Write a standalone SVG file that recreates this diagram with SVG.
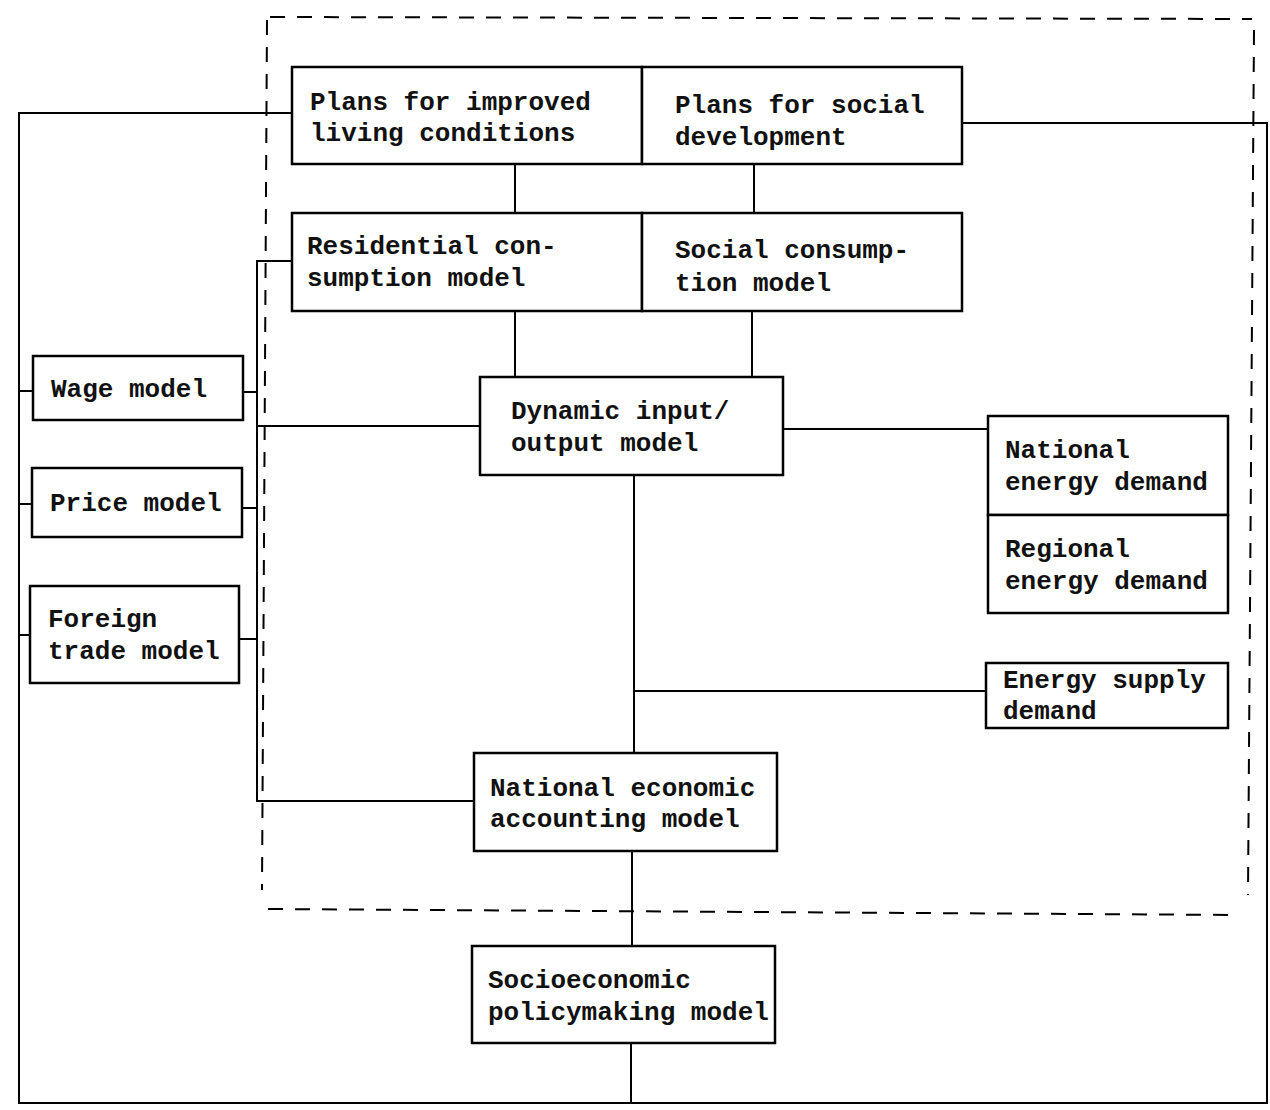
<svg xmlns="http://www.w3.org/2000/svg" width="1270" height="1110" viewBox="0 0 1270 1110">
<style>
.box{fill:#fff;stroke:#000;stroke-width:2.5}
.ln{fill:none;stroke:#000;stroke-width:2}
.dash{fill:none;stroke:#000;stroke-width:2;stroke-dasharray:15 12}
text{font-family:"Liberation Mono","Courier New",monospace;font-size:26px;font-weight:bold;fill:#111}
</style>
<rect width="1270" height="1110" fill="#fff"/>
<g id="boundary">
<line class="dash" x1="270" y1="17" x2="1252" y2="19"/>
<line class="dash" x1="267" y1="20" x2="262" y2="890"/>
<line class="dash" x1="1254" y1="30" x2="1248" y2="895"/>
<line class="dash" x1="268" y1="909" x2="1240" y2="915"/>
</g>
<g id="connectors">
<polyline class="ln" points="292,113 19,113 19,1103 1267,1103 1267,123 962,123"/>
<line class="ln" x1="631" y1="1043" x2="631" y2="1103"/>
<line class="ln" x1="19" y1="391" x2="33" y2="391"/>
<line class="ln" x1="19" y1="504" x2="32" y2="504"/>
<line class="ln" x1="19" y1="635" x2="30" y2="635"/>
<polyline class="ln" points="292,261 257,261 257,801 474,801"/>
<line class="ln" x1="243" y1="392" x2="257" y2="392"/>
<line class="ln" x1="242" y1="508" x2="257" y2="508"/>
<line class="ln" x1="239" y1="639" x2="257" y2="639"/>
<line class="ln" x1="257" y1="426" x2="480" y2="426"/>
<line class="ln" x1="515" y1="164" x2="515" y2="213"/>
<line class="ln" x1="754" y1="164" x2="754" y2="213"/>
<line class="ln" x1="515" y1="311" x2="515" y2="377"/>
<line class="ln" x1="752" y1="311" x2="752" y2="377"/>
<line class="ln" x1="783" y1="429" x2="988" y2="429"/>
<line class="ln" x1="634" y1="475" x2="634" y2="753"/>
<line class="ln" x1="634" y1="691" x2="986" y2="691"/>
<line class="ln" x1="632" y1="851" x2="632" y2="946"/>
</g>
<g id="plans_living"><rect class="box" x="292" y="67" width="350" height="97"/><text x="310" y="110">Plans for improved</text><text x="310" y="141">living conditions</text></g>
<g id="plans_social"><rect class="box" x="642" y="67" width="320" height="97"/><text x="675" y="113">Plans for social</text><text x="675" y="145">development</text></g>
<g id="residential"><rect class="box" x="292" y="213" width="350" height="98"/><text x="307" y="254">Residential con-</text><text x="307" y="286">sumption model</text></g>
<g id="social_consumption"><rect class="box" x="642" y="213" width="320" height="98"/><text x="675" y="258">Social consump-</text><text x="675" y="291">tion model</text></g>
<g id="wage"><rect class="box" x="33" y="356" width="210" height="64"/><text x="51" y="397">Wage model</text></g>
<g id="price"><rect class="box" x="32" y="468" width="210" height="69"/><text x="50" y="511">Price model</text></g>
<g id="foreign_trade"><rect class="box" x="30" y="586" width="209" height="97"/><text x="48" y="627">Foreign</text><text x="48" y="659">trade model</text></g>
<g id="dynamic_io"><rect class="box" x="480" y="377" width="303" height="98"/><text x="511" y="419">Dynamic input/</text><text x="511" y="451">output model</text></g>
<g id="national_energy"><rect class="box" x="988" y="416" width="240" height="99"/><text x="1005" y="458">National</text><text x="1005" y="490">energy demand</text></g>
<g id="regional_energy"><rect class="box" x="988" y="515" width="240" height="98"/><text x="1005" y="557">Regional</text><text x="1005" y="589">energy demand</text></g>
<g id="energy_supply"><rect class="box" x="986" y="663" width="242" height="65"/><text x="1003" y="688">Energy supply</text><text x="1003" y="719">demand</text></g>
<g id="accounting"><rect class="box" x="474" y="753" width="303" height="98"/><text x="490" y="796">National economic</text><text x="490" y="827">accounting model</text></g>
<g id="socioeconomic"><rect class="box" x="472" y="946" width="303" height="97"/><text x="488" y="988">Socioeconomic</text><text x="488" y="1020">policymaking model</text></g>
</svg>
